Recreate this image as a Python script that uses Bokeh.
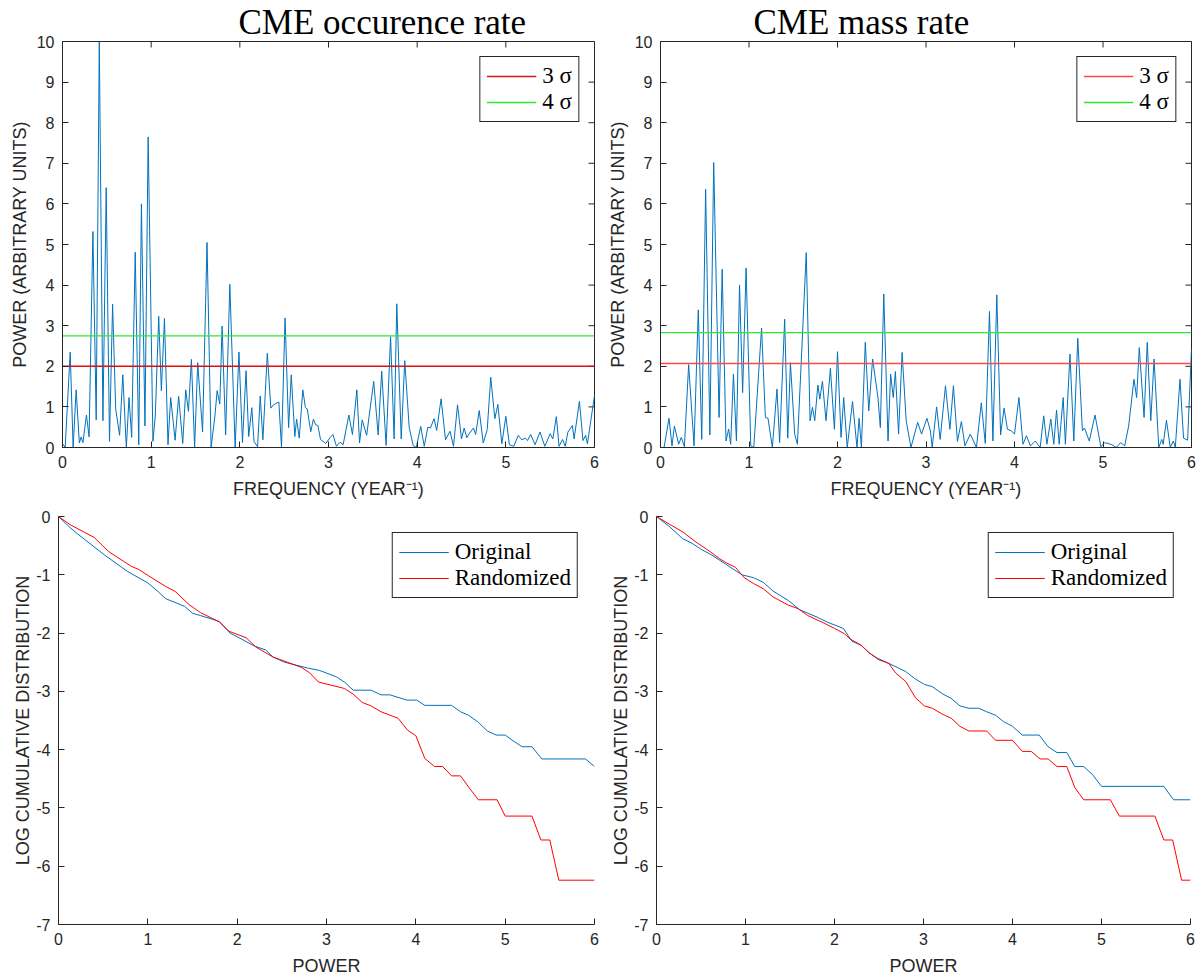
from bokeh.plotting import figure
from bokeh.models import Range1d, FixedTicker, Legend, LegendItem
from bokeh.layouts import column, row
from bokeh.embed import file_html
from bokeh.resources import INLINE

# ---------------- data ----------------
titles = ["CME occurence rate", "CME mass rate"]
freq_ticks = [0, 1, 2, 3, 4, 5, 6]
power_ticks = [0, 1, 2, 3, 4, 5, 6, 7, 8, 9, 10]
cdf_ticks = [0, -1, -2, -3, -4, -5, -6, -7]
cdf_tick_labels = ["0", "-1", "-2", "-3", "-4", "-5", "-6", "-7"]

occ_freq = [0.00, 0.03, 0.087, 0.12, 0.154, 0.19, 0.21, 0.23, 0.27, 0.30, 0.343, 0.38, 0.415, 0.456,
            0.493, 0.53, 0.565, 0.60, 0.644, 0.68, 0.72, 0.75, 0.78, 0.82, 0.86, 0.89, 0.93, 0.966,
            1.02, 1.047, 1.085, 1.115, 1.15, 1.19, 1.22, 1.27, 1.31, 1.356, 1.39, 1.42, 1.454, 1.49,
            1.525, 1.58, 1.63, 1.676, 1.72, 1.744, 1.774, 1.80, 1.84, 1.887, 1.947, 1.99, 2.03, 2.07,
            2.10, 2.135, 2.16, 2.20, 2.23, 2.26, 2.31, 2.35, 2.38, 2.42, 2.44, 2.47, 2.51, 2.55, 2.58,
            2.62, 2.64, 2.67, 2.71, 2.74, 2.76, 2.80, 2.83, 2.855, 2.88, 2.91, 2.97, 3.02, 3.05, 3.09,
            3.13, 3.165, 3.23, 3.27, 3.32, 3.35, 3.38, 3.43, 3.51, 3.56, 3.60, 3.65, 3.70, 3.74, 3.77,
            3.82, 3.86, 3.91, 3.955, 3.99, 4.04, 4.08, 4.12, 4.15, 4.19, 4.22, 4.27, 4.32, 4.37, 4.41,
            4.455, 4.50, 4.53, 4.56, 4.59, 4.635, 4.66, 4.70, 4.745, 4.79, 4.83, 4.876, 4.91, 4.955,
            5.00, 5.04, 5.09, 5.14, 5.18, 5.22, 5.245, 5.28, 5.33, 5.385, 5.44, 5.50, 5.53, 5.57, 5.60,
            5.64, 5.67, 5.70, 5.75, 5.77, 5.83, 5.87, 5.90, 5.92, 6.00]
occ_power = [0.10, 0.00, 2.35, 0.00, 1.42, 0.11, 0.26, 0.12, 0.80, 0.26, 5.32, 0.68, 10.0, 0.66,
             6.40, 0.15, 3.53, 0.95, 0.30, 1.79, 0.00, 1.23, 0.25, 4.81, 0.07, 6.00, 0.53, 7.65,
             0.15, 0.80, 3.23, 1.40, 3.18, 0.07, 1.23, 0.18, 1.26, 0.10, 1.42, 0.89, 2.17, 0.00,
             2.09, 0.38, 5.05, 0.00, 0.80, 1.40, 1.07, 2.99, 0.31, 4.02, 0.00, 2.35, 0.12, 1.89,
             0.27, 0.98, 0.15, 0.02, 1.27, 0.19, 2.32, 0.97, 1.05, 1.10, 1.12, 0.00, 3.19, 0.49, 1.79,
             0.27, 0.70, 0.23, 1.42, 0.98, 0.95, 0.39, 0.70, 0.56, 0.54, 0.20, 0.10, 0.25, 0.32, 0.03,
             0.13, 0.07, 0.80, 0.32, 1.42, 0.11, 0.68, 0.30, 1.63, 0.31, 1.88, 0.05, 2.73, 0.21, 3.54,
             0.21, 2.14, 0.50, 0.05, 0.00, 0.52, 0.03, 0.50, 0.48, 0.71, 0.42, 1.20, 0.19, 0.40, 0.03,
             1.05, 0.21, 0.48, 0.24, 0.35, 0.48, 0.32, 0.91, 0.11, 0.44, 1.73, 0.71, 1.06, 0.09,
             0.77, 0.07, 0.03, 0.30, 0.19, 0.23, 0.17, 0.32, 0.07, 0.38, 0.03, 0.34, 0.21, 0.76, 0.03,
             0.20, 0.03, 0.38, 0.54, 0.21, 1.14, 0.17, 0.30, 0.09, 1.28]
occ_sigma3 = 2.00
occ_sigma4 = 2.75

mass_freq = [0.00, 0.04, 0.096, 0.13, 0.157, 0.205, 0.235, 0.27, 0.318, 0.379, 0.427, 0.466, 0.51,
             0.558, 0.601, 0.662, 0.697, 0.74, 0.77, 0.793, 0.824, 0.858, 0.893, 0.928, 0.967, 1.02,
             1.054, 1.142, 1.185, 1.215, 1.264, 1.316, 1.346, 1.403, 1.438, 1.468, 1.516, 1.547, 1.595,
             1.647, 1.69, 1.717, 1.743, 1.778, 1.80, 1.83, 1.87, 1.92, 1.965, 2.00, 2.04, 2.07, 2.11,
             2.17, 2.22, 2.244, 2.27, 2.314, 2.353, 2.397, 2.457, 2.484, 2.523, 2.571, 2.60, 2.63,
             2.654, 2.69, 2.73, 2.776, 2.83, 2.906, 2.95, 3.01, 3.05, 3.07, 3.12, 3.16, 3.22, 3.27,
             3.31, 3.355, 3.40, 3.44, 3.50, 3.57, 3.625, 3.67, 3.717, 3.756, 3.80, 3.843, 3.882, 3.92,
             3.965, 4.00, 4.05, 4.096, 4.135, 4.18, 4.235, 4.29, 4.33, 4.366, 4.41, 4.444, 4.475,
             4.505, 4.55, 4.575, 4.627, 4.67, 4.715, 4.767, 4.79, 4.845, 4.91, 4.976, 5.02, 5.10,
             5.15, 5.20, 5.245, 5.29, 5.35, 5.38, 5.41, 5.464, 5.50, 5.54, 5.577, 5.63, 5.664, 5.68,
             5.717, 5.76, 5.795, 5.817, 5.87, 5.91, 5.956, 6.00]
mass_power = [0.00, 0.00, 0.72, 0.04, 0.53, 0.08, 0.25, 0.02, 2.04, 0.04, 3.39, 0.20, 6.36,
              0.31, 7.02, 0.74, 4.39, 0.16, 0.45, 0.08, 1.81, 0.16, 4.00, 1.35, 4.42, 0.04,
              0.00, 2.94, 0.74, 0.72, 0.00, 1.44, 0.12, 3.16, 0.23, 2.09, 0.33, 0.08, 2.34,
              4.80, 0.66, 0.99, 0.66, 1.54, 1.19, 1.63, 0.66, 1.95, 0.45, 2.36, 0.25, 1.23, 0.00,
              1.13, 0.00, 0.72, 0.00, 2.59, 0.90, 2.18, 1.23, 0.49, 3.78, 0.16, 1.81, 1.23,
              1.87, 0.33, 2.34, 0.66, 0.00, 0.62, 0.33, 0.72, 0.41, 0.00, 1.00, 0.20, 1.52, 0.45,
              1.52, 0.15, 0.64, 0.04, 0.33, 0.00, 1.10, 0.10, 3.35, 0.16, 3.76, 0.31, 0.97, 0.45,
              0.41, 0.33, 1.23, 0.08, 0.29, 0.04, 0.16, 0.00, 0.78, 0.08, 0.70, 0.08, 0.92,
              0.08, 1.23, 0.08, 2.30, 0.16, 2.69, 0.41, 0.48, 0.16, 0.80, 0.02, 0.12, 0.07,
              0.00, 0.12, 0.04, 0.53, 1.68, 1.23, 2.46, 0.74, 2.59, 0.66, 2.18, 0.00, 0.20, 0.08,
              0.67, 0.00, 0.16, 0.00, 1.68, 0.23, 0.18, 2.42]
mass_sigma3 = 2.07
mass_sigma4 = 2.83

occ_orig_pow = [0.00, 0.129, 0.215, 0.515, 0.77, 1.00, 1.116, 1.20, 1.41, 1.50, 1.59, 1.80, 1.92, 2.02,
                2.19, 2.32, 2.40, 2.53, 2.79, 2.92, 3.11, 3.20, 3.30, 3.50, 3.61, 3.71, 3.90, 4.01,
                4.10, 4.40, 4.50, 4.59, 4.70, 4.80, 4.90, 5.00, 5.09, 5.19, 5.30, 5.41, 5.90, 6.00]
occ_orig_cdf = [0.00, -0.19, -0.30, -0.66, -0.94, -1.14, -1.29, -1.41, -1.54, -1.66, -1.70, -1.80,
                -2.00, -2.08, -2.22, -2.29, -2.41, -2.50, -2.60, -2.64, -2.75, -2.84, -2.98, -2.98,
                -3.06, -3.06, -3.15, -3.15, -3.24, -3.24, -3.35, -3.41, -3.53, -3.68, -3.75, -3.75,
                -3.85, -3.95, -3.95, -4.16, -4.16, -4.29]
occ_rand_pow = [0.00, 0.13, 0.40, 0.56, 0.73, 0.815, 0.90, 1.00, 1.20, 1.31, 1.46, 1.59, 1.71, 1.80,
                1.91, 2.10, 2.21, 2.40, 2.58, 2.72, 2.81, 2.91, 3.20, 3.30, 3.40, 3.50, 3.61, 3.80,
                3.91, 4.00, 4.10, 4.21, 4.30, 4.40, 4.50, 4.60, 4.70, 4.91, 5.00, 5.30, 5.40, 5.50,
                5.60, 6.00]
occ_rand_cdf = [0.00, -0.14, -0.36, -0.60, -0.77, -0.855, -0.91, -1.01, -1.20, -1.29, -1.51, -1.65,
                -1.74, -1.81, -1.97, -2.08, -2.24, -2.41, -2.51, -2.59, -2.68, -2.84, -2.95, -3.05,
                -3.19, -3.25, -3.35, -3.46, -3.67, -3.76, -4.15, -4.29, -4.29, -4.45, -4.45, -4.66,
                -4.86, -4.86, -5.14, -5.14, -5.55, -5.55, -6.24, -6.24]

mass_orig_pow = [0.00, 0.143, 0.294, 0.40, 0.51, 0.62, 0.79, 0.96, 1.09, 1.20, 1.31, 1.48, 1.61, 1.70,
                 1.81, 1.915, 2.10, 2.196, 2.30, 2.39, 2.48, 2.61, 2.80, 2.91, 3.01, 3.10, 3.21, 3.31,
                 3.41, 3.51, 3.62, 3.71, 3.81, 3.90, 4.00, 4.11, 4.30, 4.40, 4.50, 4.61, 4.70, 4.80,
                 4.90, 5.00, 5.70, 5.81, 6.00]
mass_orig_cdf = [0.00, -0.17, -0.38, -0.46, -0.57, -0.66, -0.83, -1.00, -1.05, -1.13, -1.28, -1.44,
                 -1.60, -1.66, -1.73, -1.81, -1.92, -2.14, -2.21, -2.34, -2.43, -2.52, -2.66, -2.79,
                 -2.88, -2.92, -3.04, -3.12, -3.25, -3.29, -3.29, -3.35, -3.41, -3.52, -3.60, -3.75,
                 -3.75, -3.95, -4.05, -4.05, -4.29, -4.29, -4.43, -4.63, -4.63, -4.86, -4.86]
mass_rand_pow = [0.00, 0.143, 0.30, 0.445, 0.60, 0.705, 0.79, 0.886, 0.986, 1.09, 1.20, 1.31, 1.48,
                 1.59, 1.70, 1.87, 2.00, 2.11, 2.175, 2.30, 2.39, 2.50, 2.61, 2.69, 2.80, 2.91, 3.01,
                 3.10, 3.21, 3.31, 3.41, 3.51, 3.71, 3.81, 4.00, 4.11, 4.21, 4.31, 4.40, 4.50, 4.61,
                 4.70, 4.80, 5.10, 5.20, 5.60, 5.70, 5.80, 5.90, 6.00]
mass_rand_cdf = [0.00, -0.13, -0.27, -0.44, -0.60, -0.72, -0.80, -0.87, -1.05, -1.15, -1.24, -1.38,
                 -1.52, -1.58, -1.70, -1.82, -1.92, -2.01, -2.10, -2.21, -2.34, -2.46, -2.52, -2.69,
                 -2.83, -3.11, -3.25, -3.29, -3.39, -3.46, -3.60, -3.68, -3.68, -3.84, -3.84, -4.03,
                 -4.03, -4.16, -4.16, -4.29, -4.29, -4.65, -4.86, -4.86, -5.14, -5.14, -5.55, -5.55,
                 -6.24, -6.24]

# ---------------- style ----------------
BLUE = "#0072BD"
AXC = "#262626"
SANS = "Liberation Sans"
SERIF = "Liberation Serif"
TICK_PX = 6


def style_axis(ax, ticks, label_standoff):
    ax.ticker = FixedTicker(ticks=ticks)
    ax.major_tick_in = TICK_PX
    ax.major_tick_out = 0
    ax.minor_tick_in = 0
    ax.minor_tick_out = 0
    ax.axis_line_color = AXC
    ax.major_tick_line_color = AXC
    ax.major_label_text_color = AXC
    ax.major_label_text_font = SANS
    ax.major_label_standoff = 8
    ax.major_label_text_font_size = "16px"
    ax.axis_label_text_font = SANS
    ax.axis_label_text_font_size = "18px"
    ax.axis_label_text_font_style = "normal"
    ax.axis_label_text_color = AXC
    ax.axis_label_standoff = label_standoff


def style_legend(leg, margin):
    leg.location = "top_right"
    leg.margin = margin
    leg.border_line_color = AXC
    leg.border_line_width = 1
    leg.border_line_alpha = 1
    leg.background_fill_color = "white"
    leg.background_fill_alpha = 1
    leg.label_text_font = SERIF
    leg.label_text_font_size = "23px"
    leg.label_text_color = "black"
    leg.glyph_width = 50
    leg.glyph_height = 20
    leg.label_height = 20
    leg.label_standoff = 6
    leg.padding = 6
    leg.spacing = 0


def make_fig(left, frame_w, right, top, frame_h, bottom, y_lo, y_hi):
    p = figure(frame_width=frame_w, frame_height=frame_h,
               min_border_left=left, min_border_right=right,
               min_border_top=top, min_border_bottom=bottom,
               x_range=Range1d(0, 6), y_range=Range1d(y_lo, y_hi),
               output_backend="svg", toolbar_location=None)
    p.xgrid.visible = False
    p.ygrid.visible = False
    p.background_fill_color = "white"
    p.border_fill_color = "white"
    return p


def periodogram(title, offset, freq, power, s3, s4, red, left, frame_w, right):
    frame_h = 406
    p = make_fig(left, frame_w, right, 41, frame_h, 53, 0, 10)
    p.title.text = title
    p.title.text_font = SERIF
    p.title.text_font_size = "35px"
    p.title.text_font_style = "normal"
    p.title.text_color = "black"
    p.title.align = "left"
    p.title.offset = offset
    p.title.standoff = 0
    p.outline_line_color = AXC
    p.outline_line_alpha = 1
    style_axis(p.xaxis[0], freq_ticks, 8)
    style_axis(p.yaxis[0], power_ticks, 4)
    p.xaxis[0].axis_label = "FREQUENCY (YEAR\u207b\u00b9)"
    p.yaxis[0].axis_label = "POWER (ARBITRARY UNITS)"

    # inward tick marks on the top and right edges of the box (MATLAB "box on")
    x0, x1 = p.x_range.start, p.x_range.end
    y0, y1 = p.y_range.start, p.y_range.end
    dy = TICK_PX * (y1 - y0) / frame_h
    dx = TICK_PX * (x1 - x0) / frame_w
    p.segment(x0=freq_ticks, y0=[y1] * len(freq_ticks), x1=freq_ticks,
              y1=[y1 - dy] * len(freq_ticks), line_color=AXC, line_width=1)
    p.segment(x0=[x1] * len(power_ticks), y0=power_ticks, x1=[x1 - dx] * len(power_ticks),
              y1=power_ticks, line_color=AXC, line_width=1)

    p.line(freq, power, line_color=BLUE, line_width=1)
    xs = [x0, x1]
    r3 = p.line(xs, [s3, s3], line_color=red, line_width=1.4)
    r4 = p.line(xs, [s4, s4], line_color="#2ee62e", line_width=1.4)
    leg = Legend(items=[LegendItem(label="3 \u03c3", renderers=[r3]),
                        LegendItem(label="4 \u03c3", renderers=[r4])])
    style_legend(leg, 15)
    p.add_layout(leg, "center")
    return p


def cdf_plot(orig_x, orig_y, rand_x, rand_y, left, frame_w, right):
    p = make_fig(left, frame_w, right, 15, 408, 55, -7, 0)
    p.outline_line_color = None
    style_axis(p.xaxis[0], freq_ticks, 8)
    style_axis(p.yaxis[0], cdf_ticks, 0)
    p.yaxis[0].major_label_overrides = dict(zip(cdf_ticks, cdf_tick_labels))
    p.xaxis[0].axis_label = "POWER"
    p.yaxis[0].axis_label = "LOG CUMULATIVE DISTRIBUTION"
    r1 = p.line(orig_x, orig_y, line_color=BLUE, line_width=1)
    r2 = p.line(rand_x, rand_y, line_color="#FF0000", line_width=1)
    leg = Legend(items=[LegendItem(label="Original", renderers=[r1]),
                        LegendItem(label="Randomized", renderers=[r2])])
    style_legend(leg, 16)
    p.add_layout(leg, "center")
    return p


p1 = periodogram(titles[0], 176, occ_freq, occ_power, occ_sigma3, occ_sigma4, "#dd1111", 62, 532, 8)
p2 = periodogram(titles[1], 93, mass_freq, mass_power, mass_sigma3, mass_sigma4, "#ff4848", 58, 531, 13)
p3 = cdf_plot(occ_orig_pow, occ_orig_cdf, occ_rand_pow, occ_rand_cdf, 58, 536, 8)
p4 = cdf_plot(mass_orig_pow, mass_orig_cdf, mass_rand_pow, mass_rand_cdf, 54, 534, 14)

layout = column(row(p1, p2), row(p3, p4))
open("out.html", "w").write(file_html(layout, INLINE))
